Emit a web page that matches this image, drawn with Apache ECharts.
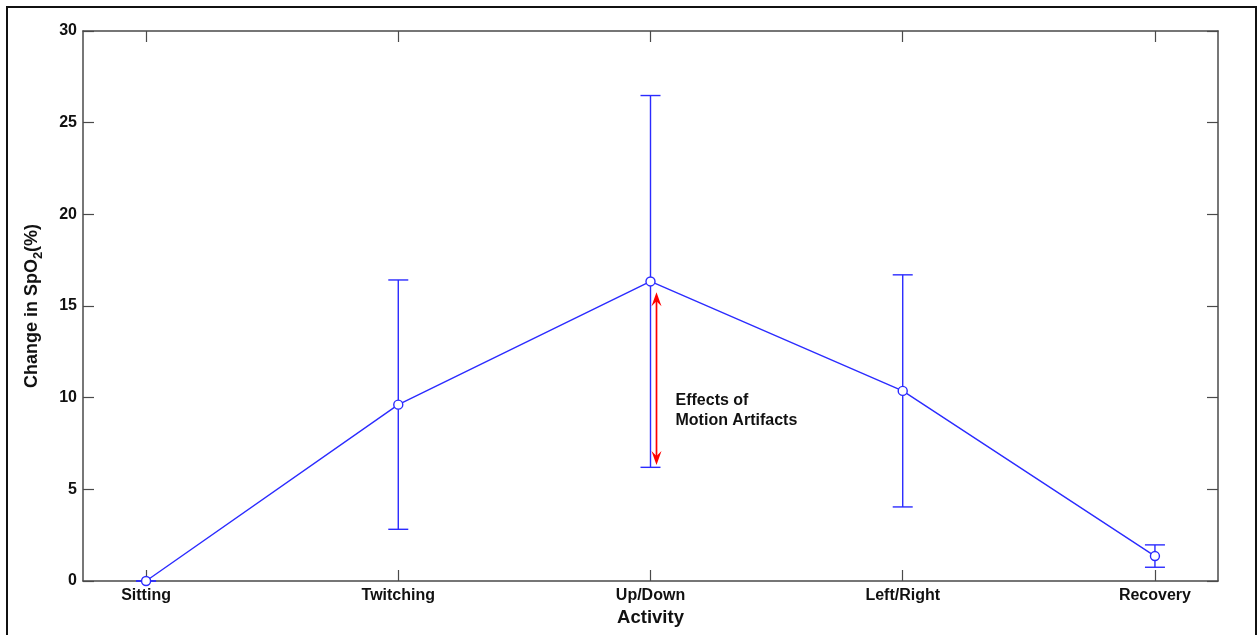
<!DOCTYPE html>
<html>
<head>
<meta charset="utf-8">
<script src="https://cdn.jsdelivr.net/npm/echarts@6/dist/echarts.min.js"></script>
<style>
  html, body { margin: 0; padding: 0; background: #fff; overflow: hidden; }
  #chart { width: 1257px; height: 635px; }
</style>
</head>
<body>
<div id="chart"></div>
<script>
// Activities along the x axis
const categories = ['Sitting', 'Twitching', 'Up/Down', 'Left/Right', 'Recovery'];
// Mean change in SpO2 (%) per activity
const meanChange = [0, 9.62, 16.34, 10.37, 1.36];
// Half-length of each error bar (%)
const errorHalf = [0, 6.80, 10.14, 6.33, 0.61];
// Y axis ticks
const yTicks = [0, 5, 10, 15, 20, 25, 30];
// Annotation arrow span (%) on the Up/Down activity
const arrowSpan = [15.75, 6.33];
const annotationText = ['Effects of', 'Motion Artifacts'];

const BLUE = '#2b2bff';
const FONT = '"Liberation Sans", Arial, sans-serif';
const catPos = categories.map((_, i) => i + 1);

const lineData = catPos.map((x, i) => [x, meanChange[i]]);
const errData = catPos.map((x, i) => [x, meanChange[i] - errorHalf[i], meanChange[i] + errorHalf[i]]);

const chart = echarts.init(document.getElementById('chart'), null, { renderer: 'canvas' });

const axisLineStyle = { color: '#4a4a4a', width: 1.5 };
const tickStyle = { color: '#4a4a4a', width: 1.2 };

const option = {
  backgroundColor: '#fff',
  animation: false,
  graphic: [{
    type: 'rect',
    shape: { x: 7, y: 7, width: 1249, height: 700 },
    style: { fill: 'none', stroke: '#111', lineWidth: 2 },
    silent: true
  }],
  grid: { left: 83, top: 31, width: 1135, height: 550 },
  xAxis: [{
    type: 'value',
    min: 0.75, max: 5.25,
    name: 'Activity',
    nameLocation: 'middle',
    nameGap: 26,
    nameTextStyle: { fontFamily: FONT, fontWeight: 'bold', fontSize: 18.5, color: '#111' },
    axisLine: { show: true, lineStyle: axisLineStyle },
    axisTick: { show: true, inside: true, length: 11, lineStyle: tickStyle, customValues: catPos },
    axisLabel: {
      customValues: catPos,
      formatter: v => categories[Math.round(v) - 1] || '',
      fontFamily: FONT, fontWeight: 'bold', fontSize: 16, color: '#111', margin: 7
    },
    splitLine: { show: false }
  }, {
    type: 'value',
    position: 'top',
    min: 0.75, max: 5.25,
    axisLine: { show: true, onZero: false, lineStyle: axisLineStyle },
    axisTick: { show: true, inside: true, length: 11, lineStyle: tickStyle, customValues: catPos },
    axisLabel: { show: false },
    splitLine: { show: false }
  }],
  yAxis: [{
    type: 'value',
    min: 0, max: 30, interval: 5,
    name: 'Change in SpO{sub|2}(%)',
    nameLocation: 'middle',
    nameGap: 38,
    nameRotate: 90,
    nameTextStyle: {
      fontFamily: FONT, fontWeight: 'bold', fontSize: 18, color: '#111',
      rich: {
        sub: { fontFamily: FONT, fontWeight: 'bold', fontSize: 13, color: '#111', padding: [12, 0, 0, 0] }
      }
    },
    axisLine: { show: true, lineStyle: axisLineStyle },
    axisTick: { show: true, inside: true, length: 11, lineStyle: tickStyle, customValues: yTicks },
    axisLabel: { customValues: yTicks, fontFamily: FONT, fontWeight: 'bold', fontSize: 16, color: '#111', margin: 6 },
    splitLine: { show: false }
  }, {
    type: 'value',
    position: 'right',
    min: 0, max: 30, interval: 5,
    axisLine: { show: true, onZero: false, lineStyle: axisLineStyle },
    axisTick: { show: true, inside: true, length: 11, lineStyle: tickStyle, customValues: yTicks },
    axisLabel: { show: false },
    splitLine: { show: false }
  }],
  series: [{
    // error bars with end caps
    type: 'custom',
    xAxisIndex: 0, yAxisIndex: 0,
    z: 2,
    data: errData,
    renderItem: (params, api) => {
      const x = api.value(0);
      const lo = api.coord([x, api.value(1)]);
      const hi = api.coord([x, api.value(2)]);
      const cap = 10;
      const st = { stroke: BLUE, lineWidth: 1.4 };
      return {
        type: 'group',
        children: [
          { type: 'line', shape: { x1: lo[0], y1: lo[1], x2: hi[0], y2: hi[1] }, style: st },
          { type: 'line', shape: { x1: lo[0] - cap, y1: lo[1], x2: lo[0] + cap, y2: lo[1] }, style: st },
          { type: 'line', shape: { x1: hi[0] - cap, y1: hi[1], x2: hi[0] + cap, y2: hi[1] }, style: st }
        ]
      };
    }
  }, {
    type: 'line',
    xAxisIndex: 0, yAxisIndex: 0,
    z: 3,
    data: lineData,
    symbol: 'circle',
    symbolSize: 9,
    lineStyle: { color: BLUE, width: 1.4 },
    itemStyle: { color: '#fff', borderColor: BLUE, borderWidth: 1.4 },
    clip: false
  }, {
    // double-headed red arrow with its note
    type: 'custom',
    xAxisIndex: 0, yAxisIndex: 0,
    z: 4,
    data: [[3, arrowSpan[0], arrowSpan[1]]],
    renderItem: (params, api) => {
      const x = api.value(0);
      const top = api.coord([x, api.value(1)]);
      const bot = api.coord([x, api.value(2)]);
      const ax = top[0] + 6;
      const hw = 5, hl = 14;
      return {
        type: 'group',
        children: [
          { type: 'line', shape: { x1: ax, y1: top[1] + 4, x2: ax, y2: bot[1] - 4 }, style: { stroke: '#ff0000', lineWidth: 1.7 } },
          { type: 'polygon', shape: { points: [[ax, top[1]], [ax - hw, top[1] + hl], [ax, top[1] + hl - 5], [ax + hw, top[1] + hl]] }, style: { fill: '#ff0000' } },
          { type: 'polygon', shape: { points: [[ax, bot[1]], [ax - hw, bot[1] - hl], [ax, bot[1] - hl + 5], [ax + hw, bot[1] - hl]] }, style: { fill: '#ff0000' } },
          {
            type: 'text',
            x: top[0] + 25, y: top[1] + 98,
            style: {
              text: annotationText.join('\n'),
              fontFamily: FONT, fontWeight: 'bold', fontSize: 16, lineHeight: 20,
              fill: '#111', align: 'left', verticalAlign: 'top'
            }
          }
        ]
      };
    }
  }]
};

chart.setOption(option);
</script>
</body>
</html>
